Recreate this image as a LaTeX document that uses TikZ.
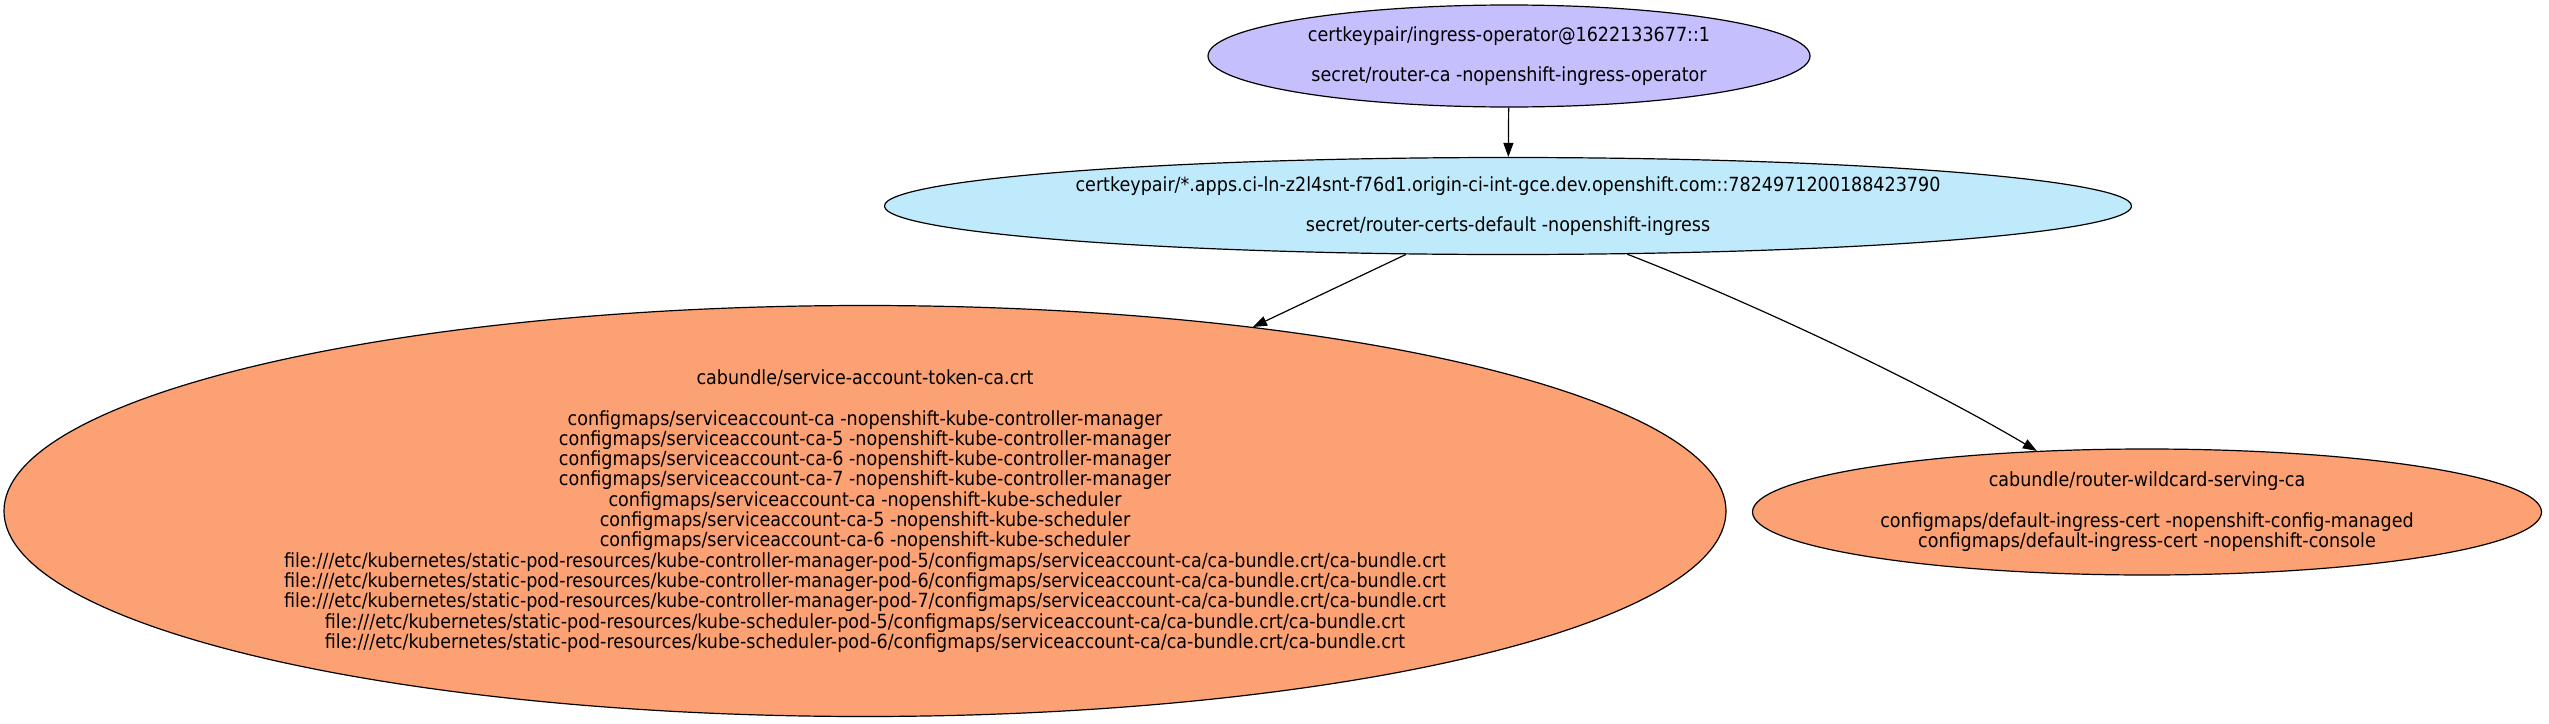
\documentclass[tikz,border=0pt]{standalone}
\usepackage{fontspec}
\setmainfont{DejaVu Sans Condensed}
\usetikzlibrary{shapes.geometric,arrows.meta}
\definecolor{lav}{HTML}{C5BFFE}
\definecolor{lblue}{HTML}{BEEAFC}
\definecolor{salmon}{HTML}{FCA173}
\tikzset{
  ell/.style={ellipse, draw=black, line width=1.2pt, inner sep=0pt, align=center,
    font=\fontsize{19.5}{20.3}\selectfont},
  edge/.style={line width=1.2pt, -{Triangle[length=14pt,width=10pt]}}
}
\begin{document}
\begin{tikzpicture}[x=1pt,y=-1pt]
\useasboundingbox (0,0) rectangle (2549,723);
\node[ell, fill=lav, minimum width=602pt, minimum height=102pt] (a) at (1509,56)
  {certkeypair/ingress-operator@1622133677::1\\[20.3pt]secret/router-ca -nopenshift-ingress-operator};
\node[ell, fill=lblue, minimum width=1247pt, minimum height=97pt] (b) at (1508,206)
  {certkeypair/*.apps.ci-ln-z2l4snt-f76d1.origin-ci-int-gce.dev.openshift.com::7824971200188423790\\[20.3pt]secret/router-certs-default -nopenshift-ingress};
\node[ell, fill=salmon, minimum width=1722pt, minimum height=411pt] (c) at (865,511)
  {cabundle/service-account-token-ca.crt\\[20.3pt]
  configmaps/serviceaccount-ca -nopenshift-kube-controller-manager\\
  configmaps/serviceaccount-ca-5 -nopenshift-kube-controller-manager\\
  configmaps/serviceaccount-ca-6 -nopenshift-kube-controller-manager\\
  configmaps/serviceaccount-ca-7 -nopenshift-kube-controller-manager\\
  configmaps/serviceaccount-ca -nopenshift-kube-scheduler\\
  configmaps/serviceaccount-ca-5 -nopenshift-kube-scheduler\\
  configmaps/serviceaccount-ca-6 -nopenshift-kube-scheduler\\
  file:///etc/kubernetes/static-pod-resources/kube-controller-manager-pod-5/configmaps/serviceaccount-ca/ca-bundle.crt/ca-bundle.crt\\
  file:///etc/kubernetes/static-pod-resources/kube-controller-manager-pod-6/configmaps/serviceaccount-ca/ca-bundle.crt/ca-bundle.crt\\
  file:///etc/kubernetes/static-pod-resources/kube-controller-manager-pod-7/configmaps/serviceaccount-ca/ca-bundle.crt/ca-bundle.crt\\
  file:///etc/kubernetes/static-pod-resources/kube-scheduler-pod-5/configmaps/serviceaccount-ca/ca-bundle.crt/ca-bundle.crt\\
  file:///etc/kubernetes/static-pod-resources/kube-scheduler-pod-6/configmaps/serviceaccount-ca/ca-bundle.crt/ca-bundle.crt};
\node[ell, fill=salmon, minimum width=789pt, minimum height=126pt] (d) at (2147,512)
  {cabundle/router-wildcard-serving-ca\\[20.3pt]
  configmaps/default-ingress-cert -nopenshift-config-managed\\
  configmaps/default-ingress-cert -nopenshift-console};
\draw[edge] (a) -- (b);
\draw[edge] (b) -- (c);
\draw[edge] (b.-22.5) .. controls (1720,290) and (1900,370) .. (d.151.3);
\end{tikzpicture}
\end{document}
